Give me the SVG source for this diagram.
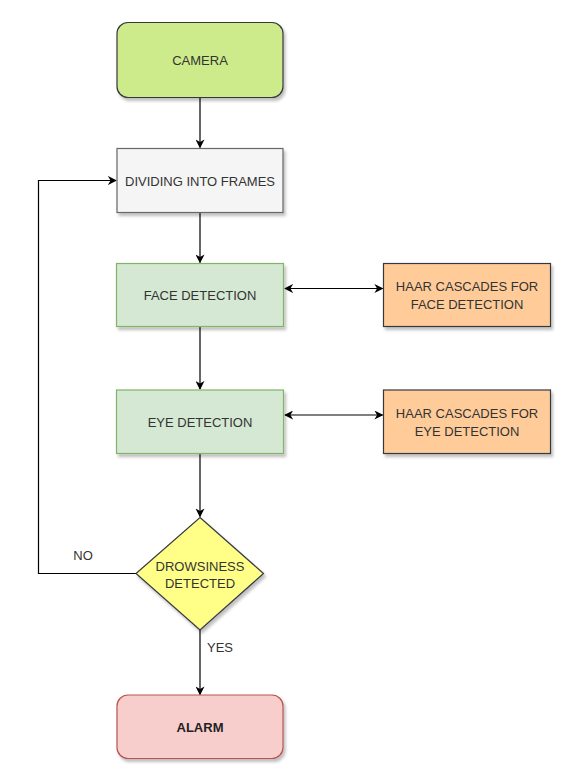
<svg xmlns="http://www.w3.org/2000/svg" width="567" height="778" viewBox="0 0 567 778">
<style>
text{font-family:"Liberation Sans",Arial,sans-serif;font-size:13px;fill:#333333;text-anchor:middle;dominant-baseline:central}
.edge{fill:none;stroke:#000;stroke-width:1.2}
.n{stroke-width:1.2;filter:url(#sh)}
</style>
<defs>
<filter id="sh" x="-10%" y="-10%" width="130%" height="140%">
<feDropShadow dx="2" dy="3" stdDeviation="1.5" flood-color="#000" flood-opacity="0.25"/>
</filter>
<marker id="ah" viewBox="0 0 10 10" refX="9" refY="5" markerWidth="9" markerHeight="9" markerUnits="userSpaceOnUse" orient="auto-start-reverse">
<path d="M0,0 L10,5 L0,10 L3,5 Z" fill="#000"/>
</marker>
</defs>
<rect width="567" height="778" fill="#fff"/>
<g id="connectors">
<line class="edge" x1="200" y1="97.5" x2="200" y2="147.5" marker-end="url(#ah)"/>
<line class="edge" x1="200" y1="212.5" x2="200" y2="262.5" marker-end="url(#ah)"/>
<line class="edge" x1="200" y1="327" x2="200" y2="389" marker-end="url(#ah)"/>
<line class="edge" x1="200" y1="453.5" x2="200" y2="516.5" marker-end="url(#ah)"/>
<line class="edge" x1="285" y1="288.5" x2="382.5" y2="288.5" marker-start="url(#ah)" marker-end="url(#ah)"/>
<line class="edge" x1="285" y1="415" x2="382.5" y2="415" marker-start="url(#ah)" marker-end="url(#ah)"/>
<polyline class="edge" points="136,573.5 38.5,573.5 38.5,180.5 116,180.5" marker-end="url(#ah)"/>
<line class="edge" x1="200" y1="630" x2="200" y2="694.5" marker-end="url(#ah)"/>
<text x="83" y="555">NO</text>
<text x="220" y="647">YES</text>
</g>
<g id="camera">
<rect class="n" x="117" y="22.5" width="166" height="75" rx="11" fill="#cdeb8b" stroke="#36393d"/>
<text x="200" y="60">CAMERA</text>
</g>
<g id="dividing">
<rect class="n" x="117" y="148.5" width="166" height="64" fill="#f5f5f5" stroke="#666666"/>
<text x="200" y="181">DIVIDING INTO FRAMES</text>
</g>
<g id="face">
<rect class="n" x="116.5" y="263.5" width="167" height="63" fill="#d5e8d4" stroke="#82b366"/>
<text x="200" y="295.5">FACE DETECTION</text>
</g>
<g id="haar-face">
<rect class="n" x="383.5" y="263.5" width="167" height="63" fill="#ffcc99" stroke="#36393d"/>
<text x="467" y="286">HAAR CASCADES FOR</text>
<text x="467" y="304">FACE DETECTION</text>
</g>
<g id="eye">
<rect class="n" x="116.5" y="390" width="167" height="63.5" fill="#d5e8d4" stroke="#82b366"/>
<text x="200" y="422">EYE DETECTION</text>
</g>
<g id="haar-eye">
<rect class="n" x="383.5" y="390" width="167" height="63.5" fill="#ffcc99" stroke="#36393d"/>
<text x="467" y="413">HAAR CASCADES FOR</text>
<text x="467" y="431">EYE DETECTION</text>
</g>
<g id="decision">
<polygon class="n" points="200,517.5 263.5,573.5 200,630 136,573.5" fill="#ffff88" stroke="#36393d"/>
<text x="200" y="566">DROWSINESS</text>
<text x="200" y="583">DETECTED</text>
</g>
<g id="alarm">
<rect class="n" x="117" y="695" width="166" height="63.5" rx="11" fill="#f8cecc" stroke="#b85450"/>
<text x="200" y="727" style="font-weight:bold;fill:#222">ALARM</text>
</g>
</svg>
